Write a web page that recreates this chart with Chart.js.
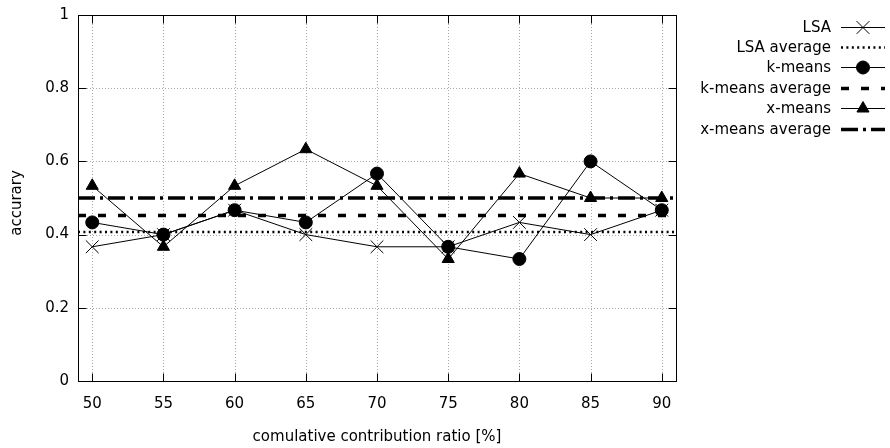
<!DOCTYPE html>
<html>
<head>
<meta charset="utf-8">
<script src="https://cdn.jsdelivr.net/npm/chart.js@4/dist/chart.umd.min.js"></script>
<style>
  html, body { margin: 0; padding: 0; background: #fff; }
  #wrap { width: 890px; height: 448px; position: relative; }
</style>
</head>
<body>
<div id="wrap"><canvas id="c" width="890" height="448"></canvas></div>
<script>
// ---- data ----
const ratios = [50, 55, 60, 65, 70, 75, 80, 85, 90];
const lsa     = [0.3667, 0.4000, 0.4667, 0.4000, 0.3667, 0.3667, 0.4333, 0.4000, 0.4667];
const kmeans  = [0.4333, 0.4000, 0.4667, 0.4333, 0.5667, 0.3667, 0.3333, 0.6000, 0.4667];
const xmeans  = [0.5333, 0.3667, 0.5333, 0.6333, 0.5333, 0.3333, 0.5667, 0.5000, 0.5000];
const lsaAverage    = 0.407;
const kmeansAverage = 0.452;
const xmeansAverage = 0.500;
const xTicks = [50, 55, 60, 65, 70, 75, 80, 85, 90];
const yTicks = [0, 0.2, 0.4, 0.6, 0.8, 1];
const xRange = [49, 91];
const seriesNames = ['LSA', 'LSA average', 'k-means', 'k-means average', 'x-means', 'x-means average'];
const yTitle = 'accurary';
const xTitle = 'comulative contribution ratio [%]';

const FONT = 'DejaVu Sans';
const FS = 15;

const pts = (arr) => ratios.map((x, i) => ({x: x, y: arr[i]}));
const flat = (v) => xRange.map(x => ({x: x, y: v}));

const datasets = [
  {label: seriesNames[0], data: pts(lsa), borderColor: '#000', backgroundColor: '#000', borderWidth: 1,
   pointStyle: 'crossRot', pointRadius: 9, pointBorderWidth: 1},
  {label: seriesNames[1], data: flat(lsaAverage), borderColor: '#000', borderWidth: 2.5, borderDash: [2, 3.4],
   pointRadius: 0},
  {label: seriesNames[2], data: pts(kmeans), borderColor: '#000', backgroundColor: '#000', borderWidth: 1,
   pointStyle: 'circle', pointRadius: 6.5, pointBorderWidth: 1},
  {label: seriesNames[3], data: flat(kmeansAverage), borderColor: '#000', borderWidth: 3.5, borderDash: [8, 12],
   pointRadius: 0},
  {label: seriesNames[4], data: pts(xmeans), borderColor: '#000', backgroundColor: '#000', borderWidth: 1,
   pointStyle: 'triangle', pointRadius: 7, pointBorderWidth: 1},
  {label: seriesNames[5], data: flat(xmeansAverage), borderColor: '#000', borderWidth: 3.5, borderDash: [17, 5, 3, 5],
   pointRadius: 0},
];

const framePlugin = {
  id: 'frame',
  beforeDatasetsDraw(chart) {
    const {ctx, chartArea: a, scales: {x, y}} = chart;
    ctx.save();
    ctx.strokeStyle = '#a8a8a8';
    ctx.lineWidth = 1;
    ctx.setLineDash([1, 2]);
    xTicks.forEach(v => {
      const px = Math.round(x.getPixelForValue(v)) + 0.5;
      ctx.beginPath(); ctx.moveTo(px, a.top); ctx.lineTo(px, a.bottom); ctx.stroke();
    });
    yTicks.forEach(v => {
      if (v === 0 || v === 1) return;
      const py = Math.round(y.getPixelForValue(v)) + 0.5;
      ctx.beginPath(); ctx.moveTo(a.left, py); ctx.lineTo(a.right, py); ctx.stroke();
    });
    ctx.restore();
  },
  afterDatasetsDraw(chart) {
    const {ctx, chartArea: a, scales: {x, y}} = chart;
    ctx.save();
    ctx.strokeStyle = '#000';
    ctx.lineWidth = 1;
    ctx.setLineDash([]);
    const L = Math.round(a.left) + 0.5, R = Math.round(a.right) + 0.5;
    const T = Math.round(a.top) + 0.5, B = Math.round(a.bottom) + 0.5;
    ctx.strokeRect(L, T, R - L, B - T);
    const tl = 8;
    xTicks.forEach(v => {
      const px = Math.round(x.getPixelForValue(v)) + 0.5;
      ctx.beginPath();
      ctx.moveTo(px, B); ctx.lineTo(px, B - tl);
      ctx.moveTo(px, T); ctx.lineTo(px, T + tl);
      ctx.stroke();
    });
    yTicks.forEach(v => {
      const py = Math.round(y.getPixelForValue(v)) + 0.5;
      ctx.beginPath();
      ctx.moveTo(L, py); ctx.lineTo(L + tl, py);
      ctx.moveTo(R, py); ctx.lineTo(R - tl, py);
      ctx.stroke();
    });
    ctx.restore();
  },
  afterDraw(chart) {
    const ctx = chart.ctx;
    ctx.save();
    ctx.font = FS + 'px "' + FONT + '"';
    ctx.fillStyle = '#000';
    // y axis title (rotated)
    ctx.save();
    ctx.translate(17, 203);
    ctx.rotate(-Math.PI / 2);
    ctx.textAlign = 'center';
    ctx.textBaseline = 'middle';
    ctx.fillText(yTitle, 0, 0);
    ctx.restore();
    // legend (gnuplot style)
    ctx.textAlign = 'right';
    ctx.textBaseline = 'middle';
    const textRight = 831, x0 = 841, x1 = 885, y0 = 26.5, dy = 20.45;
    chart.data.datasets.forEach((ds, i) => {
      const yy = Math.round(y0 + i * dy) + 0.5;
      ctx.fillText(ds.label, textRight, yy + 1);
      ctx.save();
      ctx.strokeStyle = ds.borderColor;
      ctx.lineWidth = ds.borderWidth;
      ctx.setLineDash(ds.borderDash || []);
      ctx.beginPath(); ctx.moveTo(x0, yy); ctx.lineTo(x1, yy); ctx.stroke();
      ctx.restore();
      if (ds.pointRadius > 0) {
        ctx.save();
        ctx.strokeStyle = '#000'; ctx.fillStyle = '#000'; ctx.lineWidth = 1; ctx.setLineDash([]);
        Chart.helpers.drawPoint(ctx, {pointStyle: ds.pointStyle, radius: ds.pointRadius, rotation: 0, borderWidth: 1},
          (x0 + x1) / 2, yy);
        ctx.restore();
      }
    });
    ctx.restore();
  }
};

new Chart(document.getElementById('c'), {
  type: 'line',
  data: {datasets: datasets},
  options: {
    responsive: false,
    animation: false,
    events: [],
    layout: {padding: {left: 0, right: 214, top: 15, bottom: 0}},
    plugins: {legend: {display: false}, tooltip: {enabled: false}},
    elements: {line: {tension: 0}},
    scales: {
      x: {
        type: 'linear', min: xRange[0], max: xRange[1],
        afterBuildTicks: (s) => { s.ticks = xTicks.map(v => ({value: v})); },
        afterFit: (s) => { s.height = 67; s.paddingLeft = 0; s.paddingRight = 0; },
        grid: {display: false, drawTicks: false},
        border: {display: false},
        ticks: {color: '#000', font: {family: FONT, size: FS}, padding: 14, maxRotation: 0,
                callback: (v) => String(v)},
        title: {display: true, text: xTitle, color: '#000',
                font: {family: FONT, size: FS}, padding: {top: 0, bottom: 2}}
      },
      y: {
        type: 'linear', min: 0, max: 1,
        afterBuildTicks: (s) => { s.ticks = yTicks.map(v => ({value: v})); },
        afterFit: (s) => { s.width = 78; s.paddingTop = 0; s.paddingBottom = 0; },
        grid: {display: false, drawTicks: false},
        border: {display: false},
        ticks: {color: '#000', font: {family: FONT, size: FS}, padding: 9,
                callback: (v) => String(v)},
        title: {display: false}
      }
    }
  },
  plugins: [framePlugin]
});
</script>
</body>
</html>
